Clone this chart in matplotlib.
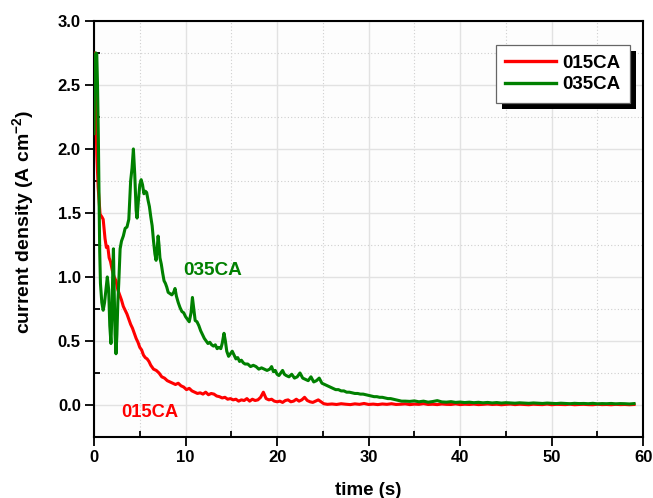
import numpy as np
import matplotlib
matplotlib.use("Agg")
import matplotlib.pyplot as plt
from matplotlib.ticker import MultipleLocator
from matplotlib.patches import Rectangle
from matplotlib.transforms import IdentityTransform

plt.rcParams['font.family'] = ['Liberation Sans', 'DejaVu Sans']
plt.rcParams['font.weight'] = 'bold'
plt.rcParams['mathtext.fontset'] = 'custom'
plt.rcParams['mathtext.rm'] = 'Liberation Sans:bold'
plt.rcParams['mathtext.bf'] = 'Liberation Sans:bold'

# ---------------- data ----------------
red_t_head = [0.0, 0.08, 0.2, 0.3, 0.45, 0.66, 0.85, 1.0, 1.2, 1.35, 1.5, 1.65, 1.8, 2.0, 2.2, 2.4,
              2.6, 2.8, 3.0, 3.2, 3.4, 3.6, 3.8, 4.0, 4.2, 4.4, 4.6, 4.8, 5.0, 5.2, 5.4, 5.6, 5.8,
              6.0, 6.2, 6.5, 6.8, 7.1, 7.4, 7.7, 8.0, 8.3, 8.6, 8.9, 9.2, 9.5, 9.8, 10.1, 10.4,
              10.7, 11.0, 11.3, 11.6, 11.9, 12.2, 12.5, 12.8, 13.1, 13.4, 13.7, 14.0, 14.3, 14.6,
              14.9, 15.2, 15.5, 15.8, 16.1, 16.4, 16.7, 17.0, 17.3, 17.6, 17.9, 18.2, 18.5, 18.8,
              19.1, 19.4, 19.7, 20.0, 20.3, 20.6, 20.9, 21.2, 21.5, 21.8, 22.1, 22.4, 22.7, 23.0,
              23.3, 23.6, 23.9, 24.2, 24.5, 24.8, 25.1]
red_v_head = [2.62, 2.75, 2.30, 1.96, 1.70, 1.49, 1.47, 1.45, 1.30, 1.23, 1.24, 1.15, 1.12, 1.05,
              1.00, 0.97, 0.90, 0.86, 0.82, 0.77, 0.74, 0.71, 0.67, 0.63, 0.60, 0.56, 0.52, 0.49,
              0.45, 0.43, 0.39, 0.37, 0.36, 0.34, 0.31, 0.28, 0.27, 0.25, 0.22, 0.21, 0.19, 0.18,
              0.17, 0.16, 0.17, 0.15, 0.14, 0.12, 0.13, 0.11, 0.10, 0.09, 0.095, 0.085, 0.10, 0.08,
              0.09, 0.085, 0.07, 0.065, 0.055, 0.06, 0.045, 0.05, 0.04, 0.045, 0.03, 0.04, 0.035,
              0.05, 0.03, 0.045, 0.035, 0.04, 0.06, 0.10, 0.05, 0.04, 0.045, 0.03, 0.025, 0.03,
              0.02, 0.035, 0.04, 0.025, 0.03, 0.045, 0.03, 0.04, 0.06, 0.035, 0.025, 0.02, 0.03,
              0.04, 0.025, 0.01]
red_v_tail = [0.005, 0.008, 0.004, 0.010, 0.006, 0.003, 0.009, 0.005, 0.012, 0.004, 0.007, 0.003,
              0.008, 0.005, 0.010, 0.004, 0.006, 0.009, 0.003, 0.007, 0.005, 0.011, 0.004, 0.006,
              0.003, 0.008, 0.005, 0.004, 0.009, 0.003, 0.006, 0.004, 0.007, 0.003, 0.005, 0.008,
              0.004, 0.006, 0.002, 0.005, 0.007, 0.003, 0.006, 0.004, 0.002, 0.006, 0.004, 0.003,
              0.007, 0.002, 0.005, 0.004, 0.003, 0.006, 0.002, 0.004, 0.005, 0.003, 0.002, 0.006,
              0.003, 0.004, 0.002, 0.005, 0.003, 0.004, 0.002, 0.004]

green_t_head = [0.0, 0.1, 0.2, 0.3, 0.38, 0.47, 0.55, 0.62, 0.7, 0.85, 1.0, 1.15, 1.3, 1.45, 1.6,
                1.72, 1.85, 1.95, 2.05, 2.12, 2.2, 2.3, 2.4, 2.5, 2.6, 2.7, 2.85, 3.0, 3.2, 3.4,
                3.6, 3.8, 4.0, 4.15, 4.3, 4.45, 4.6, 4.7, 4.85, 5.0, 5.15, 5.3, 5.45, 5.6, 5.75,
                5.9, 6.05, 6.2, 6.35, 6.5, 6.65, 6.78, 6.9, 7.0, 7.1, 7.2, 7.35, 7.5, 7.65, 7.8,
                7.95, 8.1, 8.3, 8.5, 8.7, 8.85, 9.0, 9.2, 9.4, 9.6, 9.8, 10.0, 10.2, 10.4, 10.6,
                10.75, 10.9, 11.05, 11.25, 11.45, 11.65, 11.85, 12.05, 12.25, 12.45, 12.65, 12.85,
                13.05, 13.25, 13.45, 13.65, 13.85, 14.0, 14.2, 14.35, 14.5, 14.7, 14.9, 15.1, 15.3,
                15.5, 15.7, 15.9, 16.1, 16.3, 16.5, 16.8, 17.1, 17.4, 17.7, 18.0, 18.3, 18.6, 18.9,
                19.2, 19.4, 19.6, 19.8, 20.0, 20.2, 20.4, 20.6, 20.8, 21.0, 21.3, 21.6, 21.9, 22.2,
                22.5, 22.8, 23.1, 23.4, 23.7, 24.0, 24.3, 24.6, 24.9, 25.2, 25.5, 25.8, 26.1, 26.4,
                26.7, 27.0, 27.3, 27.6, 27.9, 28.2, 28.5, 28.8, 29.1, 29.4, 29.7, 30.0, 30.3, 30.6,
                30.9, 31.2, 31.5, 31.8, 32.1, 32.4, 32.7, 33.0, 33.3, 33.6, 34.0]
green_v_head = [2.12, 2.70, 2.75, 2.74, 2.50, 2.10, 1.60, 1.20, 0.95, 0.80, 0.74, 0.80, 0.90,
                1.00, 0.90, 0.62, 0.48, 0.70, 1.05, 1.22, 0.90, 0.55, 0.40, 0.55, 0.80, 0.95,
                1.22, 1.28, 1.32, 1.38, 1.39, 1.45, 1.75, 1.85, 2.00, 1.80, 1.52, 1.46, 1.60,
                1.72, 1.76, 1.72, 1.65, 1.67, 1.66, 1.60, 1.55, 1.47, 1.40, 1.28, 1.18, 1.13,
                1.22, 1.32, 1.25, 1.15, 1.10, 1.03, 0.97, 0.95, 0.92, 0.88, 0.87, 0.86, 0.88,
                0.91, 0.85, 0.80, 0.76, 0.73, 0.72, 0.69, 0.67, 0.65, 0.72, 0.84, 0.75, 0.66,
                0.65, 0.62, 0.58, 0.55, 0.52, 0.50, 0.48, 0.49, 0.47, 0.46, 0.47, 0.44, 0.45,
                0.44, 0.48, 0.56, 0.50, 0.42, 0.38, 0.40, 0.42, 0.39, 0.36, 0.37, 0.34, 0.35,
                0.33, 0.32, 0.32, 0.30, 0.31, 0.30, 0.28, 0.29, 0.28, 0.27, 0.28, 0.30, 0.26,
                0.27, 0.24, 0.23, 0.25, 0.27, 0.24, 0.23, 0.22, 0.24, 0.21, 0.22, 0.25, 0.21,
                0.20, 0.19, 0.22, 0.18, 0.19, 0.21, 0.17, 0.16, 0.15, 0.14, 0.13, 0.12, 0.12,
                0.11, 0.11, 0.10, 0.10, 0.095, 0.09, 0.09, 0.085, 0.085, 0.08, 0.075, 0.07,
                0.065, 0.065, 0.06, 0.06, 0.055, 0.05, 0.05, 0.045, 0.04, 0.035, 0.03, 0.03]
green_v_tail = [0.028, 0.032, 0.025, 0.030, 0.022, 0.027, 0.034, 0.024, 0.022, 0.026, 0.020,
                0.023, 0.019, 0.022, 0.018, 0.021, 0.017, 0.020, 0.016, 0.019, 0.015, 0.018,
                0.016, 0.014, 0.017, 0.015, 0.013, 0.016, 0.014, 0.012, 0.015, 0.013, 0.011,
                0.014, 0.012, 0.010, 0.013, 0.011, 0.012, 0.010, 0.013, 0.009, 0.011, 0.010,
                0.012, 0.009, 0.011, 0.010, 0.008, 0.011]

labels = ["015CA", "035CA"]
colors = ["#ff0000", "#008000"]

red_t = np.concatenate([red_t_head, 25.5 + 0.5 * np.arange(len(red_v_tail))])
red_v = np.concatenate([red_v_head, red_v_tail])
green_t = np.concatenate([green_t_head, 34.5 + 0.5 * np.arange(len(green_v_tail))])
green_v = np.concatenate([green_v_head, green_v_tail])

# ---------------- figure ----------------
fig = plt.figure(figsize=(6.53, 4.98), dpi=100)
ax = fig.add_axes([0.144, 0.1225, 0.841, 0.8355])
ax.set_facecolor('#fdfdfd')

ax.plot(red_t, red_v, color=colors[0], lw=2.2, label=labels[0], zorder=3)
ax.plot(green_t, green_v, color=colors[1], lw=2.2, label=labels[1], zorder=3)

ax.set_xlim(0, 60)
ax.set_ylim(-0.25, 3.0)
ax.xaxis.set_major_locator(MultipleLocator(10))
ax.xaxis.set_minor_locator(MultipleLocator(5))
ax.yaxis.set_minor_locator(MultipleLocator(0.25))
ax.set_yticks(np.arange(0, 3.01, 0.5))
ax.yaxis.set_major_formatter(matplotlib.ticker.FormatStrFormatter('%.1f'))

ax.grid(which='major', color='#e2e2e2', lw=1.0, ls='-', zorder=0)
ax.grid(which='minor', color='#cfcfcf', lw=0.8, ls=(0, (1, 2)), zorder=0)

ax.tick_params(which='major', direction='out', length=6.5, width=1.3, labelsize=12,
               pad=3, top=False, right=False)
ax.tick_params(which='minor', direction='in', length=4, width=1.3, top=False, right=False)
for lab in ax.get_xticklabels() + ax.get_yticklabels():
    lab.set_fontweight('bold')
for s in ax.spines.values():
    s.set_linewidth(1.5)

ax.set_xlabel('time (s)', fontsize=13.5, fontweight='bold', labelpad=12)
ax.set_ylabel(r'current density (A cm$^{\mathbf{-2}}$)', fontsize=14, fontweight='bold')
ax.yaxis.set_label_coords(-0.104, 0.517)

ax.text(9.8, 1.05, labels[1], color=colors[1], fontsize=13.7, fontweight='bold',
        va='center', ha='left', zorder=4)
ax.text(3.0, -0.06, labels[0], color=colors[0], fontsize=13.2, fontweight='bold',
        va='center', ha='left', zorder=4)

leg = ax.legend(loc='upper right', bbox_to_anchor=(0.976, 0.942),
                prop={'weight': 'bold', 'size': 13.5}, fancybox=False, framealpha=1,
                edgecolor='#666666', handlelength=2.7, handletextpad=0.35,
                borderpad=0.5, labelspacing=0.25, borderaxespad=0)
leg.get_frame().set_linewidth(0.9)
leg.set_zorder(6)
for ln in leg.get_lines():
    ln.set_linewidth(2.4)

fig.canvas.draw()
bb = leg.get_window_extent()
shadow = Rectangle((bb.x0 + 6, bb.y0 - 6), bb.width, bb.height, transform=IdentityTransform(),
                   facecolor='black', edgecolor='none', zorder=5.5, clip_on=False)
ax.add_artist(shadow)

fig.savefig('out.png', dpi=100)
